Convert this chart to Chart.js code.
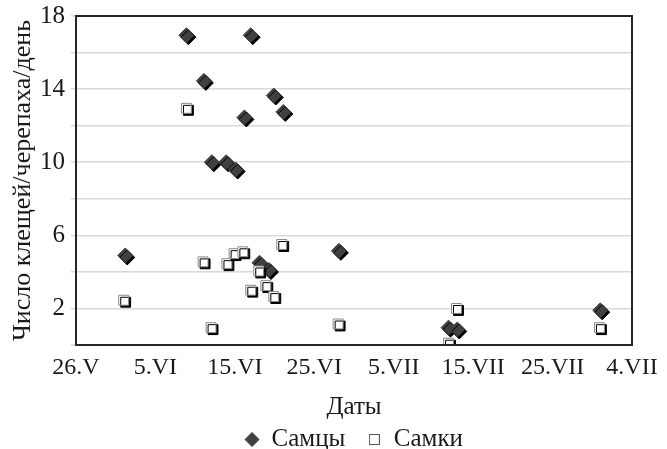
<!DOCTYPE html>
<html>
<head>
<meta charset="utf-8">
<script src="https://cdn.jsdelivr.net/npm/chart.js@4/dist/chart.umd.min.js"></script>
<style>
  body { margin: 0; background: #fff; }
  #wrap { width: 667px; height: 449px; }
</style>
</head>
<body>
<div id="wrap"><canvas id="ticksChart"></canvas></div>
<script>
// x = days after 26.V, y = ticks per tortoise per day
const xTickLabels = ["26.V", "5.VI", "15.VI", "25.VI", "5.VII", "15.VII", "25.VII", "4.VII"];
const yTickLabels = [2, 6, 10, 14, 18];

const malesDay   = [6.2, 13.9, 16.1, 22.0, 17.1, 18.9, 20.1, 21.2, 24.9, 26.1, 23.1, 24.3, 33.1, 46.9, 48.0, 66.0];
const malesCount = [4.9, 16.95, 14.45, 16.95, 10.0, 10.0, 9.6, 12.45, 13.65, 12.75, 4.5, 4.1, 5.15, 0.95, 0.85, 1.9];

const femalesDay   = [6.0, 13.9, 16.0, 17.0, 19.0, 19.9, 21.0, 25.9, 23.0, 22.0, 23.9, 24.9, 33.0, 47.9, 46.9, 65.9];
const femalesCount = [2.45, 12.95, 4.55, 0.95, 4.45, 5.0, 5.1, 5.5, 4.05, 3.0, 3.25, 2.65, 1.15, 2.0, 0.1, 0.95];

function toPoints(xs, ys) {
    return xs.map((x, i) => ({ x: x, y: ys[i] }));
}

// small open square for the legend (a plain "rect" gets stretched by pointStyleWidth)
function legendSquare() {
    const c = document.createElement("canvas");
    c.width = 11;
    c.height = 11;
    const g = c.getContext("2d");
    g.fillStyle = "#fff";
    g.fillRect(0, 0, 11, 11);
    g.strokeStyle = "#555";
    g.lineWidth = 1;
    g.strokeRect(0.5, 0.5, 10, 10);
    return c;
}

// shadow under the markers, like the original
const markerShadow = {
    id: "markerShadow",
    beforeDatasetDraw(chart) {
        const ctx = chart.ctx;
        ctx.save();
        ctx.shadowColor = "#000";
        ctx.shadowOffsetX = 2;
        ctx.shadowOffsetY = 2;
        ctx.shadowBlur = 0;
    },
    afterDatasetDraw(chart) {
        chart.ctx.restore();
    }
};

// frame round the plot area
const plotFrame = {
    id: "plotFrame",
    afterDraw(chart) {
        const a = chart.chartArea;
        const ctx = chart.ctx;
        ctx.save();
        ctx.strokeStyle = "#262626";
        ctx.lineWidth = 2;
        ctx.strokeRect(a.left, a.top, a.right - a.left, a.bottom - a.top);
        ctx.restore();
    }
};

const serif = "'Liberation Serif', 'DejaVu Serif', serif";

new Chart(document.getElementById("ticksChart"), {
    type: "scatter",
    data: {
        datasets: [
            {
                label: "Самцы",
                data: toPoints(malesDay, malesCount),
                pointStyle: "rectRot",
                pointRadius: 7.5,
                pointHoverRadius: 7.5,
                backgroundColor: "#404040",
                borderColor: "#404040",
                borderWidth: 1,
                order: 1
            },
            {
                label: "Самки",
                data: toPoints(femalesDay, femalesCount),
                pointStyle: "rect",
                pointRadius: 7,
                pointHoverRadius: 7,
                backgroundColor: "#ffffff",
                borderColor: "#8a8a8a",
                borderWidth: 1,
                order: 0
            }
        ]
    },
    options: {
        responsive: true,
        maintainAspectRatio: false,
        animation: false,
        layout: { padding: { left: 8, right: 35, top: 15, bottom: -13 } },
        plugins: {
            tooltip: { enabled: false },
            legend: {
                position: "bottom",
                fullSize: false,
                labels: {
                    usePointStyle: true,
                    boxHeight: 10,
                    pointStyleWidth: 14,
                    color: "#1a1a1a",
                    font: { family: serif, size: 25 },
                    padding: 22,
                    sort: (a, b) => a.datasetIndex - b.datasetIndex,
                    generateLabels: chart => {
                        const items = Chart.defaults.plugins.legend.labels.generateLabels(chart);
                        items.forEach(it => {
                            if (it.datasetIndex === 1) it.pointStyle = legendSquare();
                        });
                        return items;
                    }
                }
            }
        },
        scales: {
            x: {
                type: "linear",
                min: 0,
                max: 70,
                afterFit: s => { s.height = 60; },
                ticks: {
                    stepSize: 10,
                    padding: 0,
                    color: "#1a1a1a",
                    font: { family: serif, size: 24 },
                    callback: v => xTickLabels[v / 10]
                },
                grid: { display: false, drawTicks: true },
                border: { display: true, color: "#262626", width: 2 },
                title: {
                    display: true,
                    text: "Даты",
                    color: "#1a1a1a",
                    font: { family: serif, size: 25 },
                    padding: { top: 4, bottom: -17 }
                }
            },
            y: {
                min: 0,
                max: 18,
                afterFit: s => { s.width = 68; },
                ticks: {
                    stepSize: 2,
                    padding: 6,
                    color: "#1a1a1a",
                    font: { family: serif, size: 25, lineHeight: 0.8 },
                    callback: v => yTickLabels.includes(v) ? v : ""
                },
                grid: { color: "#d9d9d9", lineWidth: 1.5, tickLength: 5 },
                border: { display: true, color: "#262626", width: 2 },
                title: {
                    display: true,
                    text: "Число клещей/черепаха/день",
                    color: "#1a1a1a",
                    font: { family: serif, size: 26 },
                    padding: { top: 0, bottom: 2 }
                }
            }
        }
    },
    plugins: [markerShadow, plotFrame]
});
</script>
</body>
</html>
